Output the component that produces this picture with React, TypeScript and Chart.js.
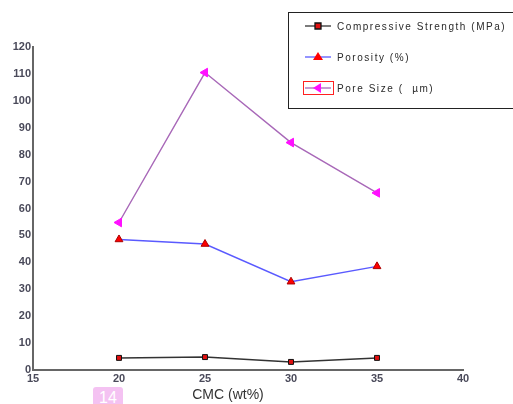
import React, { useEffect, useRef } from "react";
import { Chart, registerables } from "chart.js";
Chart.register(...registerables);

const cmc = [20, 25, 30, 35];
const compressive = [4.5, 4.8, 3.0, 4.5];
const porosity = [48.5, 46.8, 32.8, 38.5];
const poreSize = [54.8, 110.5, 84.5, 65.8];
const xTicks = [15, 20, 25, 30, 35, 40];
const yMax = 120;
const labels = ["Compressive Strength (MPa)", "Porosity (%)", "Pore Size (  \u00b5m)"];

const pts = (ys: number[]) => cmc.map((x, i) => ({ x, y: ys[i] }));

const legendPlugin = {
  id: "customLegend",
  afterDraw(chart: any) {
    const ctx = chart.ctx;
    ctx.save();
    ctx.strokeStyle = "#222";
    ctx.lineWidth = 1;
    ctx.strokeRect(288.5, 12.5, 240, 96);
    const rows = [26, 57, 88];
    ctx.font = "10px Arial";
    (ctx as any).letterSpacing = "1.55px";
    chart.data.datasets.forEach((ds: any, i: number) => {
      const y = rows[i];
      if (i === 2) {
        ctx.strokeStyle = "#ff2020";
        ctx.lineWidth = 1;
        ctx.strokeRect(303.5, y - 6.5, 30, 13);
      }
      ctx.strokeStyle = ds.borderColor;
      ctx.lineWidth = 1.3;
      ctx.beginPath();
      ctx.moveTo(305, y);
      ctx.lineTo(331, y);
      ctx.stroke();
      ctx.fillStyle = ds.pointBackgroundColor;
      ctx.strokeStyle = ds.pointBorderColor;
      ctx.beginPath();
      if (i === 0) {
        ctx.rect(315, y - 3, 6, 6);
      } else if (i === 1) {
        ctx.moveTo(318, y - 5);
        ctx.lineTo(323, y + 3);
        ctx.lineTo(313, y + 3);
        ctx.closePath();
      } else {
        ctx.moveTo(313, y);
        ctx.lineTo(321, y - 5);
        ctx.lineTo(321, y + 5);
        ctx.closePath();
      }
      ctx.fill();
      if (i === 0) ctx.stroke();
      ctx.fillStyle = "#2a2a2a";
      ctx.textBaseline = "middle";
      ctx.textAlign = "left";
      ctx.fillText(ds.label, 337, y + 1);
    });
    (ctx as any).letterSpacing = "0px";
    ctx.font = "14px Arial";
    ctx.fillStyle = "#333";
    ctx.textAlign = "center";
    ctx.textBaseline = "middle";
    ctx.fillText("CMC (wt%)", 228, 395);
    ctx.restore();
  },
};

export default function App() {
  const ref = useRef<HTMLCanvasElement>(null);
  useEffect(() => {
    document.body.style.margin = "0";
    const chart = new Chart(ref.current!, {
      type: "line",
      data: {
        datasets: [
          {
            label: labels[0],
            data: pts(compressive),
            borderColor: "#333333",
            borderWidth: 1.5,
            pointStyle: "rect",
            pointRadius: 3.5,
            pointBackgroundColor: "#e01010",
            pointBorderColor: "#111",
            pointBorderWidth: 1,
          },
          {
            label: labels[1],
            data: pts(porosity),
            borderColor: "#5a5aff",
            borderWidth: 1.4,
            pointStyle: "triangle",
            pointRadius: 4.5,
            pointBackgroundColor: "#ff0000",
            pointBorderColor: "#aa0000",
            pointBorderWidth: 1,
          },
          {
            label: labels[2],
            data: pts(poreSize),
            borderColor: "#a868b8",
            borderWidth: 1.4,
            pointStyle: "triangle",
            rotation: -90,
            pointRadius: 5,
            pointBackgroundColor: "#ff10ff",
            pointBorderColor: "#ff10ff",
            pointBorderWidth: 1,
          } as any,
        ],
      },
      options: {
        animation: false,
        responsive: false,
        layout: { padding: { top: 47, right: 50, bottom: 0, left: 0 } },
        plugins: { legend: { display: false }, tooltip: { enabled: false } },
        scales: {
          x: {
            type: "linear",
            min: xTicks[0],
            max: xTicks[xTicks.length - 1],
            afterBuildTicks: (s: any) => {
              s.ticks = xTicks.map((v) => ({ value: v }));
            },
            afterFit: (s: any) => {
              s.height = 34;
            },
            grid: { display: false, drawTicks: false },
            border: { display: true, color: "#666", width: 2 },
            ticks: { color: "#4a4a5a", font: { family: "Arial", size: 11, weight: "bold" }, padding: 2 },
          },
          y: {
            min: 0,
            max: yMax,
            afterFit: (s: any) => {
              s.width = 33;
            },
            grid: { display: false, drawTicks: false },
            border: { display: true, color: "#666", width: 2 },
            ticks: { stepSize: 10, color: "#4a4a5a", font: { family: "Arial", size: 11, weight: "bold" }, padding: 2 },
          },
        },
      },
      plugins: [legendPlugin],
    });
    return () => chart.destroy();
  }, []);
  return (
    <div style={{ position: "relative", width: 513, height: 404, background: "#fff" }}>
      <canvas ref={ref} width={513} height={404} style={{ display: "block" }} />
      <div
        style={{
          position: "absolute",
          left: 93,
          top: 387,
          width: 30,
          height: 17,
          background: "#f4c2f2",
          color: "#fff",
          fontFamily: "Arial",
          fontSize: 16,
          lineHeight: "22px",
          textAlign: "center",
          borderRadius: "3px 3px 0 0",
          overflow: "hidden",
        }}
      >
        14
      </div>
    </div>
  );
}
